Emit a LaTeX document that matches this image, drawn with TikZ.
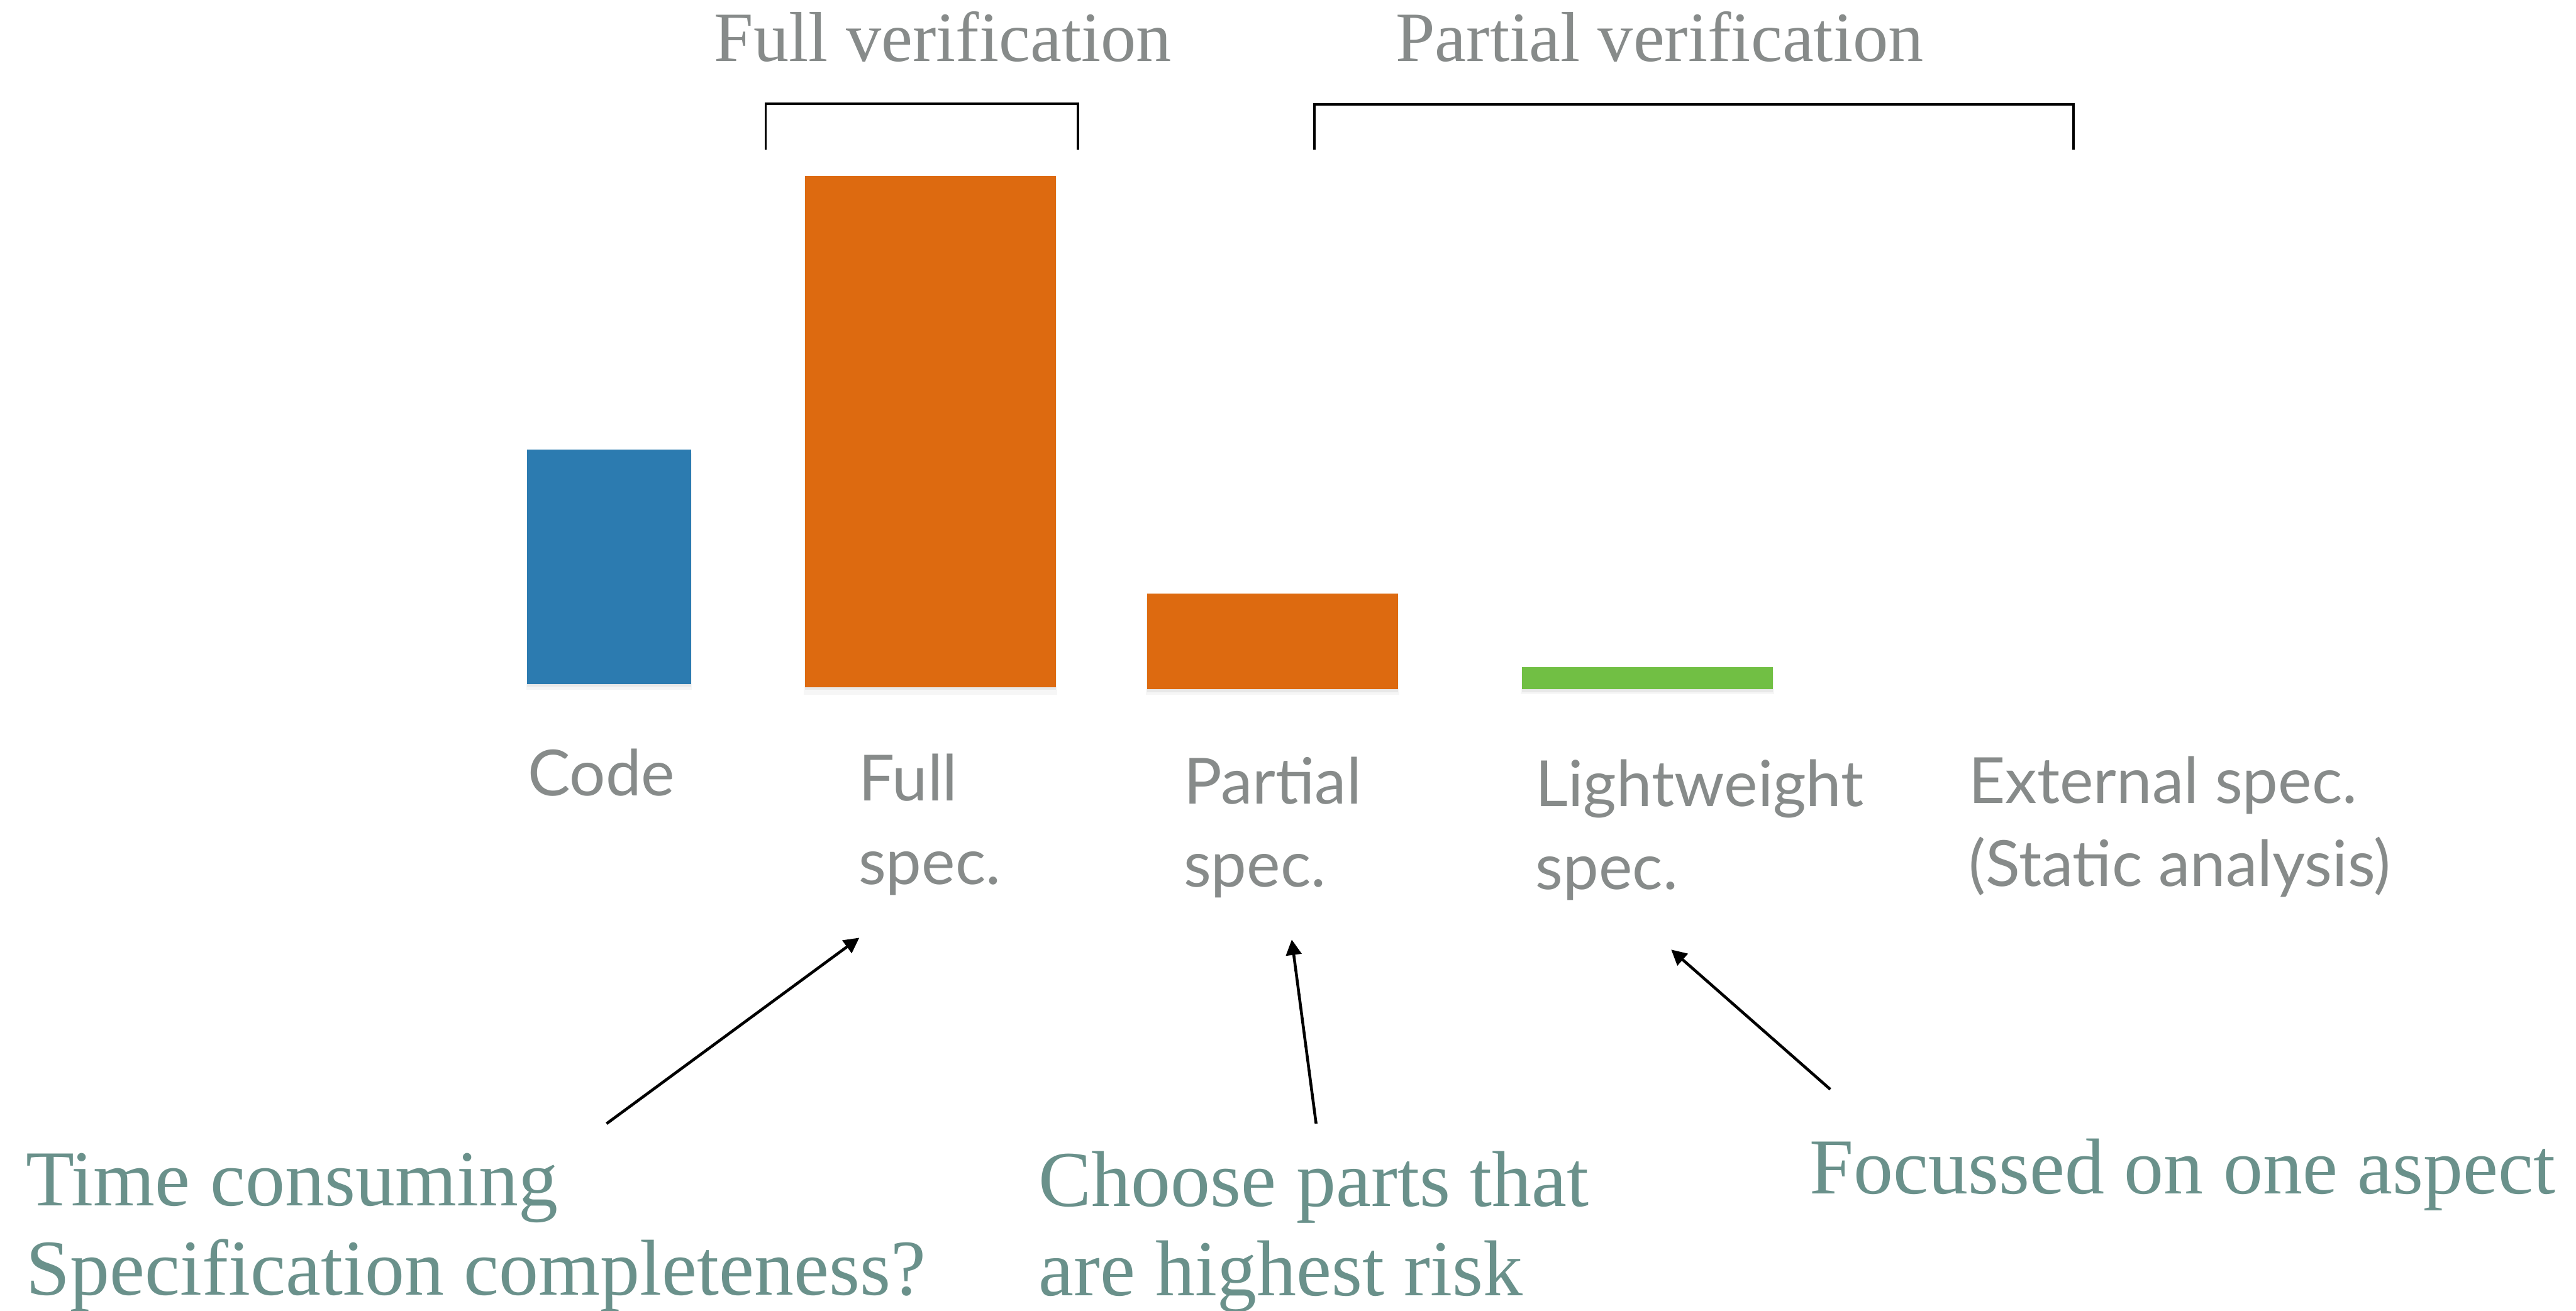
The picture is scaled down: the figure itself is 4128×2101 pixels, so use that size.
\documentclass[tikz,border=0pt]{standalone}
\usepackage{fontspec}
\setmainfont{Liberation Serif}
\newfontfamily\labfont{Lato}
\usetikzlibrary{arrows.meta,shadows}
\definecolor{barblue}{HTML}{2C7BB0}
\definecolor{barorange}{HTML}{DD6A10}
\definecolor{bargreen}{HTML}{71BF44}
\definecolor{labgray}{HTML}{878B8A}
\definecolor{noteteal}{HTML}{6A918B}
\tikzset{
  bar/.style={rectangle, inner sep=0pt, outer sep=0pt, draw=none,
    drop shadow={shadow xshift=0pt, shadow yshift=-2.2pt, shadow scale=1.01, opacity=.07},
    drop shadow={shadow xshift=0pt, shadow yshift=-1.2pt, shadow scale=1.0, opacity=.12}},
  toptext/.style={inner sep=0pt, anchor=base west, text=labgray,
    font=\fontsize{32.2pt}{38pt}\selectfont},
  barlabel/.style={inner sep=0pt, anchor=base west, text=labgray, align=left,
    font=\labfont\fontsize{29pt}{38.1pt}\selectfont},
  note/.style={inner sep=0pt, anchor=base west, text=noteteal, align=left,
    font=\fontsize{36.1pt}{40.7pt}\selectfont},
  bracket/.style={line width=1.1pt, black},
  pointer/.style={line width=1.3pt, black, -{Triangle[length=7pt,width=7pt]}}
}
\begin{document}
\begin{tikzpicture}[x=0.01cm, y=-0.01cm]
\useasboundingbox (0,0) rectangle (4128,2101);
% bars
\node[bar, fill=barblue, minimum width=2.62cm, minimum height=3.75cm] (code) at (976,908.5) {};
\node[bar, fill=barorange, minimum width=4.02cm, minimum height=8.19cm] (full) at (1491,691.5) {};
\node[bar, fill=barorange, minimum width=4.02cm, minimum height=1.54cm] (partial) at (2039,1028) {};
\node[bar, fill=bargreen, minimum width=4.02cm, minimum height=0.36cm] (light) at (2640,1087) {};
% brackets
\draw[bracket] (1227,240) -- (1227,166) -- (1727,166) -- (1727,240);
\draw[bracket] (2106,240) -- (2106,167) -- (3323,167) -- (3323,240);
\node[toptext] (fullver) at (1144,98) {Full verification};
\node[toptext] (partver) at (2236,98) {Partial verification};
% bar labels (anchor = baseline of last line)
\node[barlabel] (lcode) at (845,1275) {Code};
\node[barlabel] (lfull) at (1375,1417) {Full\\spec.};
\node[barlabel] (lpartial) at (1896,1422) {Partial\\spec.};
\node[barlabel] (llight) at (2460,1426) {Lightweight\\spec.};
\node[barlabel] (lext) at (3154,1421) {External spec.\\(Static analysis)};
% notes
\node[note] (ntime) at (41,2076) {Time consuming\\Specification completeness?};
\node[note] (nchoose) at (1664,2077) {Choose parts that\\are highest risk};
\node[note] (nfocus) at (2899,1913) {Focussed on one aspect};
% arrows
\coordinate (t1) at (972,1801);
\coordinate (h1) at (1377,1503);
\coordinate (t2) at (2109,1801);
\coordinate (h2) at (2070,1506);
\coordinate (t3) at (2933,1746);
\coordinate (h3) at (2678,1522);
\draw[pointer] (t1) -- (h1);
\draw[pointer] (t2) -- (h2);
\draw[pointer] (t3) -- (h3);
\end{tikzpicture}
\end{document}
